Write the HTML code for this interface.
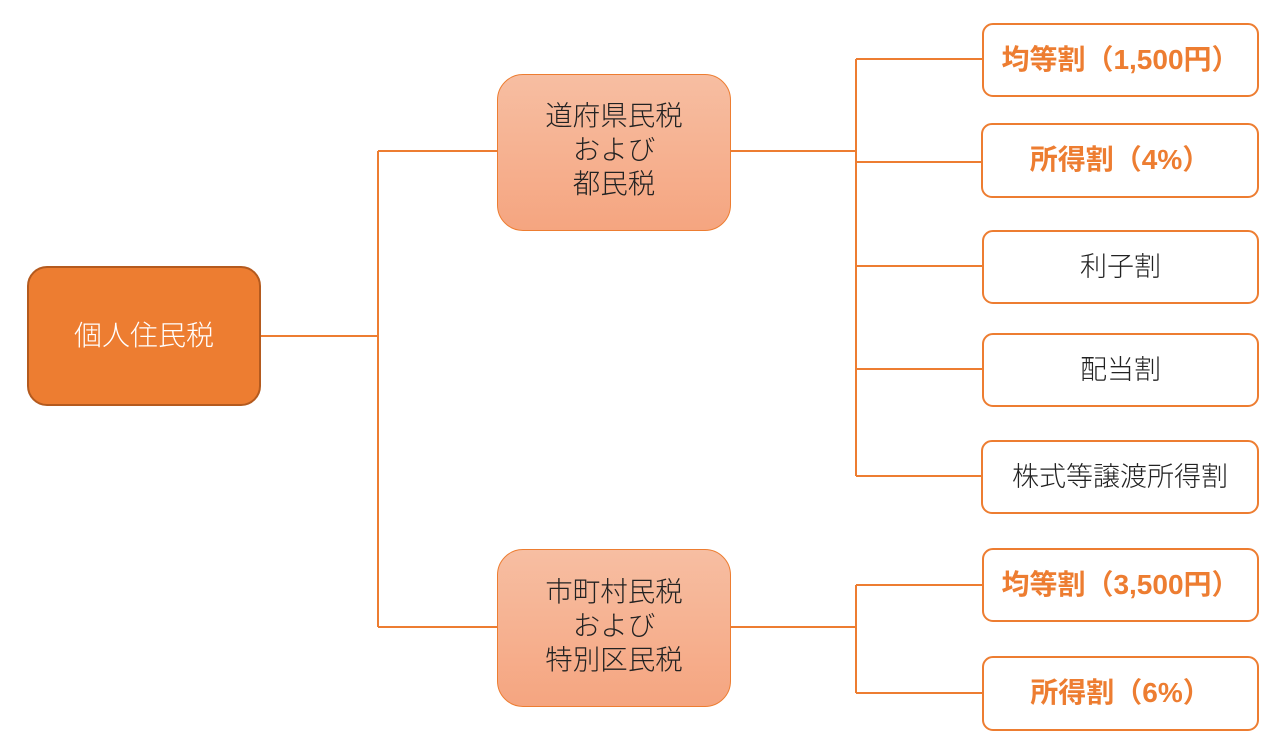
<!DOCTYPE html>
<html><head><meta charset="utf-8"><style>
body{margin:0;width:1271px;height:747px;background:#fff;position:relative;overflow:hidden;font-family:"Liberation Sans","Noto Sans CJK JP",sans-serif;}
.b{position:absolute;box-sizing:border-box;display:flex;align-items:center;justify-content:center;text-align:center;padding-bottom:5px;}
.r{border:2px solid #ED7D31;border-radius:11px;background:#fff;font-size:27px;color:#222;font-weight:300;}
.o{color:#ED7D31;font-weight:bold;font-size:28px;}
.m{border:1px solid #ED7D31;border-radius:26px;background:linear-gradient(#F7BEA2,#F5A580);font-size:27.5px;line-height:34px;color:#222;font-weight:300;}
</style></head><body>
<svg width="1271" height="747" style="position:absolute;left:0;top:0" fill="none" stroke="#ED7D31" stroke-width="2">
<path d="M261 336H378M378 151V627M378 151H497M378 627H497"/>
<path d="M730 151H856M856 59V476M856 59H982M856 162H982M856 266H982M856 369H982M856 476H982"/>
<path d="M730 627H856M856 585V693M856 585H982M856 693H982"/>
</svg>
<div class="b" style="left:27px;top:266px;width:234px;height:140px;background:#ED7D31;border:2px solid #B45A1E;border-radius:20px;color:#fff;font-size:28px;font-weight:300;">個人住民税</div>
<div class="b m" style="left:497px;top:74px;width:234px;height:157px;">道府県民税<br>および<br>都民税</div>
<div class="b m" style="left:497px;top:549px;width:234px;height:158px;">市町村民税<br>および<br>特別区民税</div>
<div class="b r o" style="left:982px;top:23px;width:277px;height:74px;">均等割（1,500円）</div>
<div class="b r o" style="left:981px;top:123px;width:278px;height:75px;">所得割（4%）</div>
<div class="b r" style="left:982px;top:230px;width:277px;height:74px;">利子割</div>
<div class="b r" style="left:982px;top:333px;width:277px;height:74px;">配当割</div>
<div class="b r" style="left:981px;top:440px;width:278px;height:74px;">株式等譲渡所得割</div>
<div class="b r o" style="left:982px;top:548px;width:277px;height:74px;">均等割（3,500円）</div>
<div class="b r o" style="left:982px;top:656px;width:277px;height:75px;">所得割（6%）</div>
</body></html>
